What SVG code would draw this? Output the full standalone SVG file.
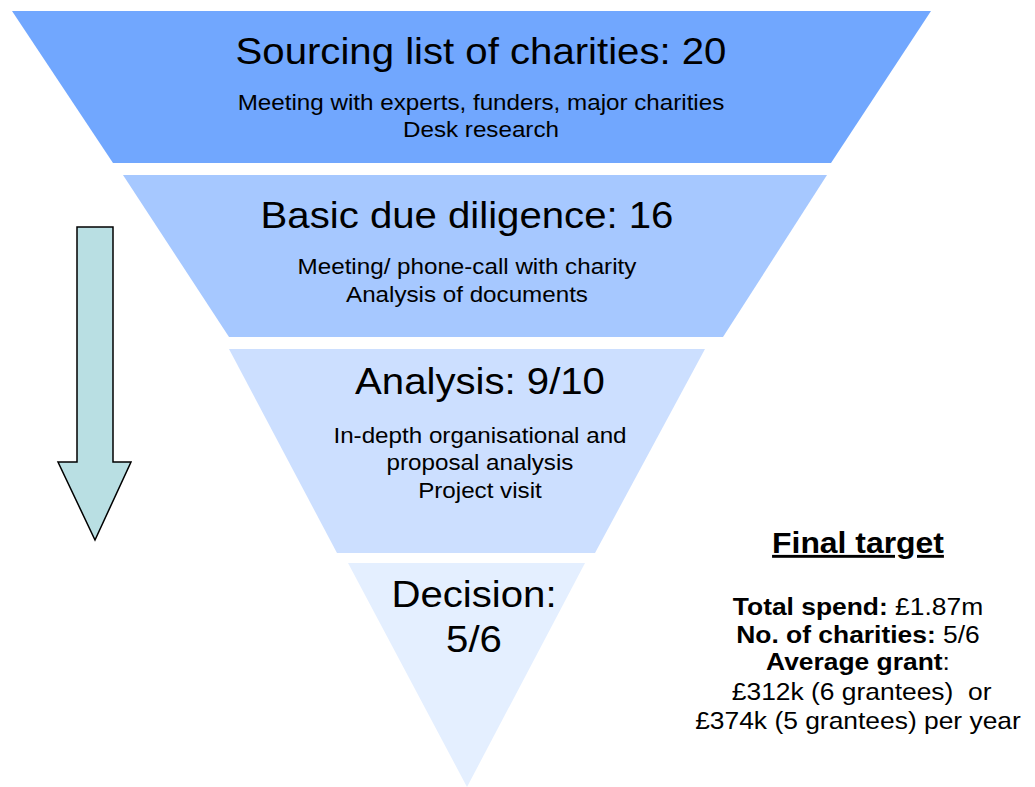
<svg xmlns="http://www.w3.org/2000/svg" width="1035" height="787" viewBox="0 0 1035 787">
<style>
.t{font-family:"Liberation Sans",Arial,sans-serif;fill:#000;text-anchor:middle;transform-box:fill-box;transform-origin:center;transform:scaleX(1.1)}
.h{font-size:36.5px}
.s{font-size:22px}
.f{font-size:24px}
.b{font-weight:bold}
</style>
<rect width="1035" height="787" fill="#fff"/>
<g id="stage1">
<polygon points="12,11 931,11 831,163 113,163" fill="#71A7FE"/>
<text class="t h" x="481" y="64">Sourcing list of charities: 20</text>
<text class="t s" x="481" y="110">Meeting with experts, funders, major charities</text>
<text class="t s" x="481" y="137">Desk research</text>
</g>
<g id="stage2">
<polygon points="123,175 827,175 723,337 229,337" fill="#A6C8FF"/>
<text class="t h" x="467" y="228">Basic due diligence: 16</text>
<text class="t s" x="467" y="274">Meeting/ phone-call with charity</text>
<text class="t s" x="467" y="302">Analysis of documents</text>
</g>
<g id="stage3">
<polygon points="229,349 705,349 595,553 337,553" fill="#CCDFFF"/>
<text class="t h" x="480" y="394">Analysis: 9/10</text>
<text class="t s" x="480" y="443">In-depth organisational and</text>
<text class="t s" x="480" y="470">proposal analysis</text>
<text class="t s" x="480" y="498">Project visit</text>
</g>
<g id="stage4">
<polygon points="348,563 585,563 467,787" fill="#E4EFFF"/>
<text class="t h" x="474" y="607">Decision:</text>
<text class="t h" x="474" y="652">5/6</text>
</g>
<g id="arrow">
<polygon points="77,227 113,227 113,462 131,462 95,540 58,462 77,462" fill="#B9DFE3" stroke="#000" stroke-width="1.5"/>
</g>
<g id="final">
<text class="t b" x="858" y="553" font-size="29" text-decoration="underline">Final target</text>
<text class="t f" x="858" y="615"><tspan class="b">Total spend:</tspan> £1.87m</text>
<text class="t f" x="858" y="643"><tspan class="b">No. of charities:</tspan> 5/6</text>
<text class="t f" x="858" y="670"><tspan class="b">Average grant</tspan>:</text>
<text class="t f" x="858" y="700" xml:space="preserve"> £312k (6 grantees)  or</text>
<text class="t f" x="858" y="729">£374k (5 grantees) per year</text>
</g>
<g id="connectors"/>
</svg>
